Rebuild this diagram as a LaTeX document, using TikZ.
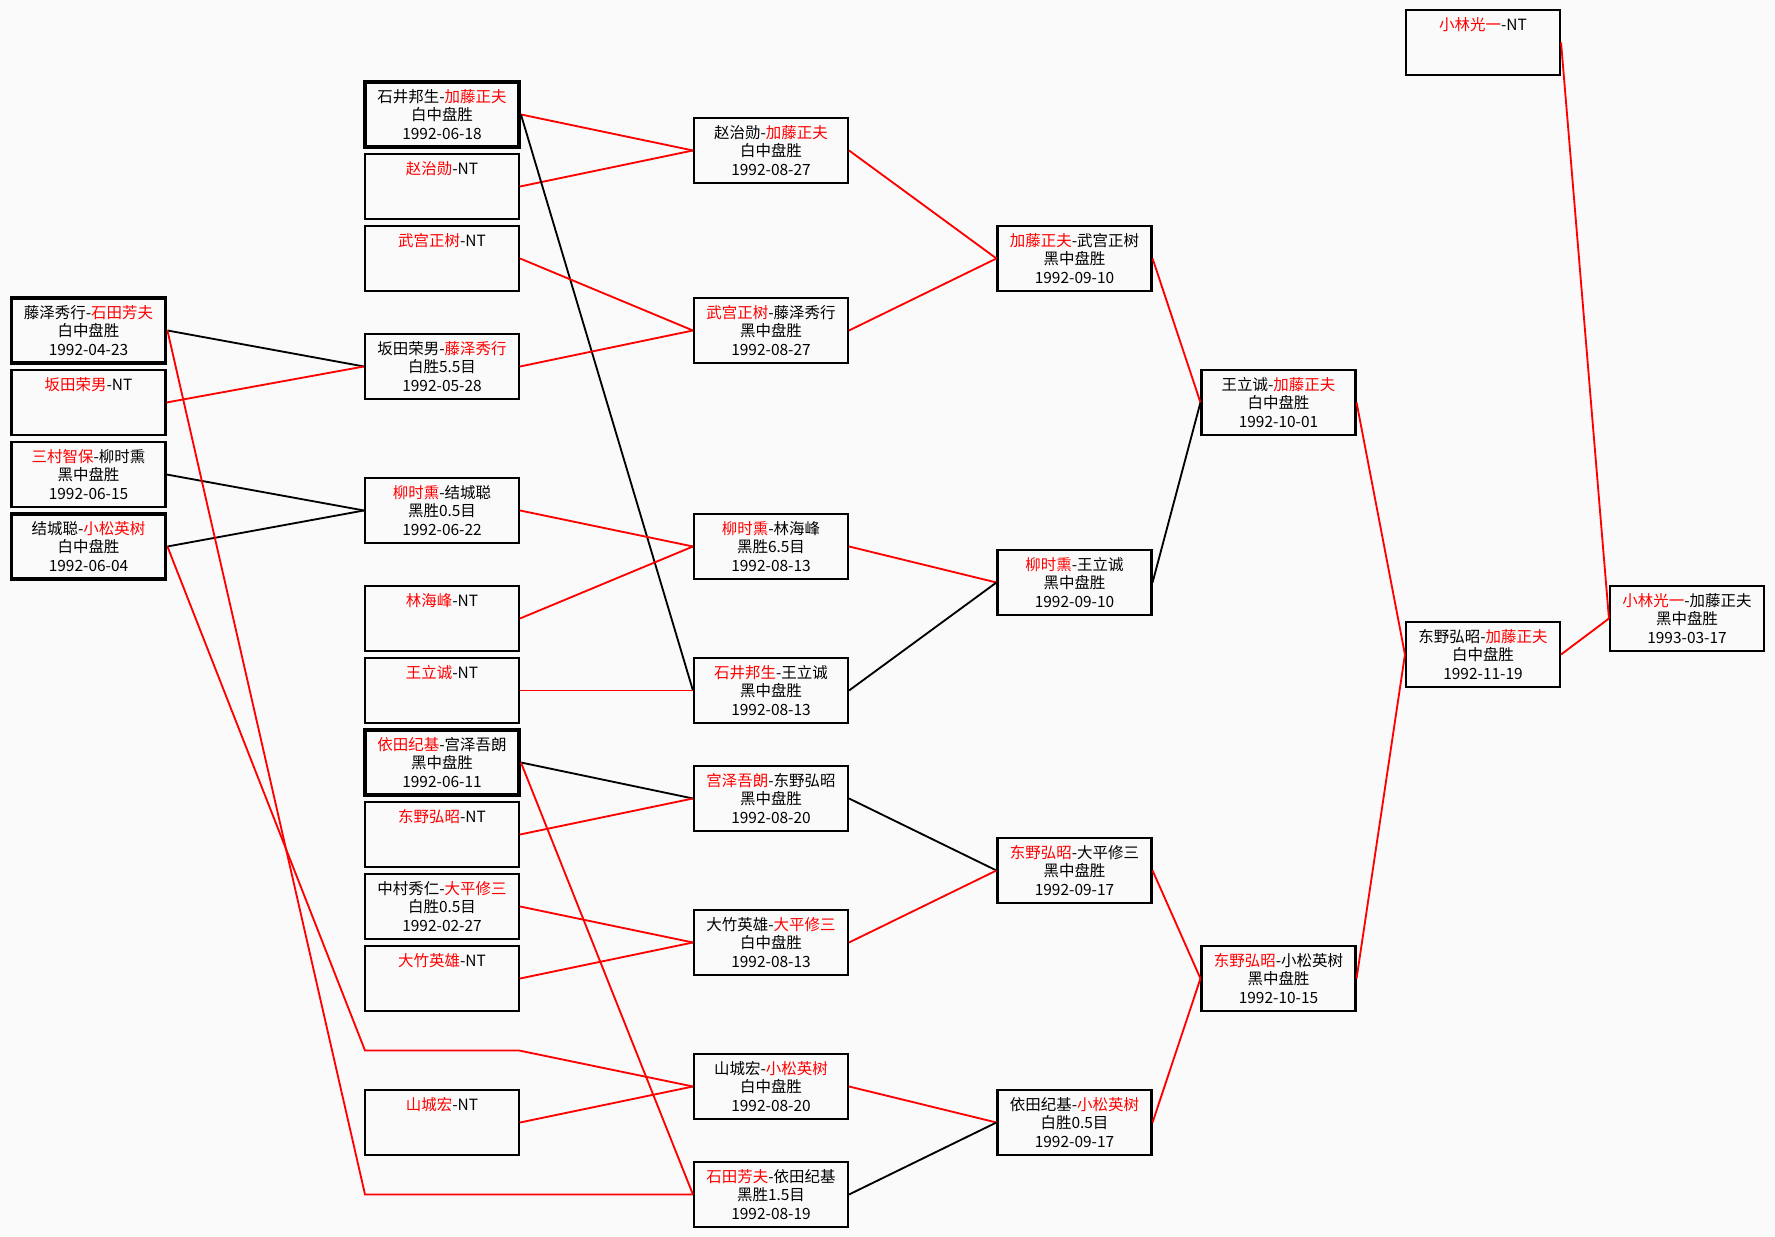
\documentclass[tikz,border=0pt]{standalone}
\usepackage{fontspec}
\newfontfamily\cjk{Noto Sans CJK SC}
\newcommand\winner[1]{\textcolor{red}{#1}}
\newcommand\bye[1]{\winner{#1}-NT\\\phantom{0}\\\phantom{0}}

\begin{document}
\begin{tikzpicture}[x=1cm,y=-1.44cm,
    game/.style={draw,line width=1.2pt,minimum width=3.08cm,minimum height=1.29cm,
      align=center,inner sep=0pt,font=\cjk\fontsize{8.8}{10.6}\selectfont},
    seed/.style={game,line width=2.2pt},
    won/.style={red,line width=1.05pt},
    lost/.style={black,line width=1.05pt}]
    \useasboundingbox[fill=black!2] (0,-0.59) rectangle (35.5,16.59);

    % first round
    \node[seed] (a1) at (1.77,4) {藤泽秀行-\winner{石田芳夫}\\白中盘胜\\1992-04-23};
    \node[game] (a2) at (1.77,5) {\bye{坂田荣男}};
    \node[game] (a3) at (1.77,6) {\winner{三村智保}-柳时熏\\黑中盘胜\\1992-06-15};
    \node[seed] (a4) at (1.77,7) {结城聪-\winner{小松英树}\\白中盘胜\\1992-06-04};

    % second round
    \node[seed] (b1) at (8.84,1) {石井邦生-\winner{加藤正夫}\\白中盘胜\\1992-06-18};
    \node[game] (b2) at (8.84,2) {\bye{赵治勋}};
    \node[game] (b3) at (8.84,3) {\bye{武宫正树}};
    \node[game] (b4) at (8.84,4.5) {坂田荣男-\winner{藤泽秀行}\\白胜5.5目\\1992-05-28};
    \node[game] (b5) at (8.84,6.5) {\winner{柳时熏}-结城聪\\黑胜0.5目\\1992-06-22};
    \node[game] (b6) at (8.84,8) {\bye{林海峰}};
    \node[game] (b7) at (8.84,9) {\bye{王立诚}};
    \node[seed] (b8) at (8.84,10) {\winner{依田纪基}-宫泽吾朗\\黑中盘胜\\1992-06-11};
    \node[game] (b9) at (8.84,11) {\bye{东野弘昭}};
    \node[game] (b10) at (8.84,12) {中村秀仁-\winner{大平修三}\\白胜0.5目\\1992-02-27};
    \node[game] (b11) at (8.84,13) {\bye{大竹英雄}};
    \node[game] (b12) at (8.84,15) {\bye{山城宏}};
    \coordinate (p1) at (7.30,14);
    \coordinate (p2) at (10.38,14);
    \coordinate (p3) at (7.30,16);

    % third round
    \node[game] (c1) at (15.42,1.5) {赵治勋-\winner{加藤正夫}\\白中盘胜\\1992-08-27};
    \node[game] (c2) at (15.42,4) {\winner{武宫正树}-藤泽秀行\\黑中盘胜\\1992-08-27};
    \node[game] (c3) at (15.42,7) {\winner{柳时熏}-林海峰\\黑胜6.5目\\1992-08-13};
    \node[game] (c4) at (15.42,9) {\winner{石井邦生}-王立诚\\黑中盘胜\\1992-08-13};
    \node[game] (c5) at (15.42,10.5) {\winner{宫泽吾朗}-东野弘昭\\黑中盘胜\\1992-08-20};
    \node[game] (c6) at (15.42,12.5) {大竹英雄-\winner{大平修三}\\白中盘胜\\1992-08-13};
    \node[game] (c7) at (15.42,14.5) {山城宏-\winner{小松英树}\\白中盘胜\\1992-08-20};
    \node[game] (c8) at (15.42,16) {\winner{石田芳夫}-依田纪基\\黑胜1.5目\\1992-08-19};

    \node[game] (d1) at (21.49,3) {\winner{加藤正夫}-武宫正树\\黑中盘胜\\1992-09-10};
    \node[game] (d2) at (21.49,7.5) {\winner{柳时熏}-王立诚\\黑中盘胜\\1992-09-10};
    \node[game] (d3) at (21.49,11.5) {\winner{东野弘昭}-大平修三\\黑中盘胜\\1992-09-17};
    \node[game] (d4) at (21.49,15) {依田纪基-\winner{小松英树}\\白胜0.5目\\1992-09-17};

    \node[game] (e1) at (25.57,5) {王立诚-\winner{加藤正夫}\\白中盘胜\\1992-10-01};
    \node[game] (e2) at (25.57,13) {\winner{东野弘昭}-小松英树\\黑中盘胜\\1992-10-15};

    \node[game] (f1) at (29.66,0) {\bye{小林光一}};
    \node[game] (f2) at (29.66,8.5) {东野弘昭-\winner{加藤正夫}\\白中盘胜\\1992-11-19};

    \node[game] (g1) at (33.74,8) {\winner{小林光一}-加藤正夫\\黑中盘胜\\1993-03-17};

    % lines
    \draw[lost] (a1.east) -- (b4.west);
    \draw[won] (a2.east) -- (b4.west);
    \draw[lost] (a3.east) -- (b5.west);
    \draw[lost] (a4.east) -- (b5.west);
    \draw[won] (a4.east) -- (p1) -- (p2) -- (c7.west);
    \draw[won] (a1.east) -- (p3) -- (c8.west);

    \draw[won] (b1.east) -- (c1.west);
    \draw[won] (b2.east) -- (c1.west);
    \draw[lost] (b1.east) -- (c4.west);
    \draw[won] (b3.east) -- (c2.west);
    \draw[won] (b4.east) -- (c2.west);
    \draw[won] (b5.east) -- (c3.west);
    \draw[won] (b6.east) -- (c3.west);
    \draw[won] (b7.east) -- (c4.west);
    \draw[lost] (b8.east) -- (c5.west);
    \draw[won] (b8.east) -- (c8.west);
    \draw[won] (b9.east) -- (c5.west);
    \draw[won] (b10.east) -- (c6.west);
    \draw[won] (b11.east) -- (c6.west);
    \draw[won] (b12.east) -- (c7.west);

    \draw[won] (c1.east) -- (d1.west);
    \draw[won] (c2.east) -- (d1.west);
    \draw[won] (c3.east) -- (d2.west);
    \draw[lost] (c4.east) -- (d2.west);
    \draw[lost] (c5.east) -- (d3.west);
    \draw[won] (c6.east) -- (d3.west);
    \draw[won] (c7.east) -- (d4.west);
    \draw[lost] (c8.east) -- (d4.west);

    \draw[won] (d1.east) -- (e1.west);
    \draw[lost] (d2.east) -- (e1.west);
    \draw[won] (d3.east) -- (e2.west);
    \draw[won] (d4.east) -- (e2.west);

    \draw[won] (e1.east) -- (f2.west);
    \draw[won] (e2.east) -- (f2.west);
    \draw[won] (f1.east) -- (g1.west);
    \draw[won] (f2.east) -- (g1.west);
\end{tikzpicture}
\end{document}
